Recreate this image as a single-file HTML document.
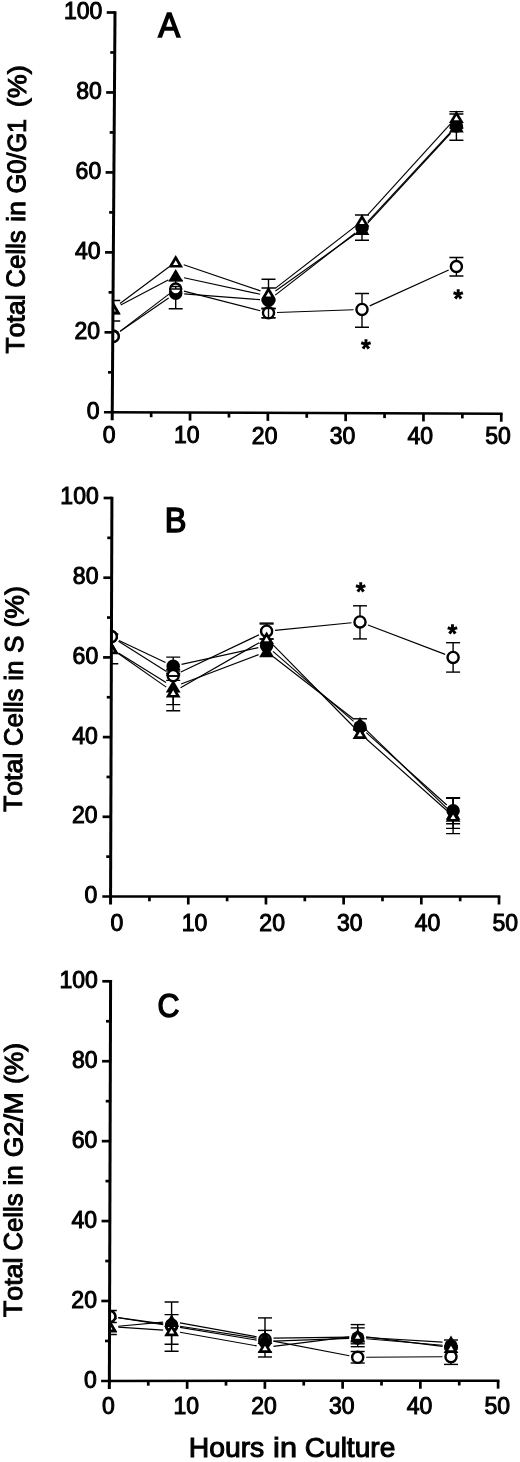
<!DOCTYPE html>
<html><head><meta charset="utf-8"><title>Figure</title>
<style>
html,body{margin:0;padding:0;background:#fff;}
svg{display:block;}
.t{font-family:"Liberation Sans", Arial, Helvetica, sans-serif;fill:#000;stroke:#000;stroke-width:1.0px;font-kerning:none;}
.s{stroke-width:1.4px;}
.b{stroke-width:1.5px;}
</style></head><body>
<svg width="520" height="1462" viewBox="0 0 520 1462">
<rect width="520" height="1462" fill="#fff"/>
<clipPath id="ca"><polygon points="114.51,0.50 520,0.50 520,412.30 111.75,412.30"/></clipPath>
<g clip-path="url(#ca)">
<line x1="113.20" y1="300.50" x2="113.20" y2="321.00" stroke="#000" stroke-width="1.4" />
<line x1="106.20" y1="300.50" x2="120.20" y2="300.50" stroke="#000" stroke-width="1.4" />
<line x1="106.20" y1="321.00" x2="120.20" y2="321.00" stroke="#000" stroke-width="1.4" />
<line x1="175.70" y1="280.50" x2="175.70" y2="308.80" stroke="#000" stroke-width="1.4" />
<line x1="168.70" y1="280.50" x2="182.70" y2="280.50" stroke="#000" stroke-width="1.4" />
<line x1="168.70" y1="308.80" x2="182.70" y2="308.80" stroke="#000" stroke-width="1.4" />
<line x1="268.50" y1="279.20" x2="268.50" y2="308.60" stroke="#000" stroke-width="1.4" />
<line x1="261.50" y1="279.20" x2="275.50" y2="279.20" stroke="#000" stroke-width="1.4" />
<line x1="261.50" y1="308.60" x2="275.50" y2="308.60" stroke="#000" stroke-width="1.4" />
<line x1="268.50" y1="288.00" x2="268.50" y2="300.00" stroke="#000" stroke-width="1.4" />
<line x1="261.50" y1="288.00" x2="275.50" y2="288.00" stroke="#000" stroke-width="1.4" />
<line x1="261.50" y1="300.00" x2="275.50" y2="300.00" stroke="#000" stroke-width="1.4" />
<line x1="268.50" y1="308.50" x2="268.50" y2="317.70" stroke="#000" stroke-width="1.4" />
<line x1="261.50" y1="308.50" x2="275.50" y2="308.50" stroke="#000" stroke-width="1.4" />
<line x1="261.50" y1="317.70" x2="275.50" y2="317.70" stroke="#000" stroke-width="1.4" />
<line x1="362.00" y1="215.00" x2="362.00" y2="240.20" stroke="#000" stroke-width="1.4" />
<line x1="355.00" y1="215.00" x2="369.00" y2="215.00" stroke="#000" stroke-width="1.4" />
<line x1="355.00" y1="240.20" x2="369.00" y2="240.20" stroke="#000" stroke-width="1.4" />
<line x1="362.00" y1="293.50" x2="362.00" y2="327.20" stroke="#000" stroke-width="1.4" />
<line x1="355.00" y1="293.50" x2="369.00" y2="293.50" stroke="#000" stroke-width="1.4" />
<line x1="355.00" y1="327.20" x2="369.00" y2="327.20" stroke="#000" stroke-width="1.4" />
<line x1="456.40" y1="111.60" x2="456.40" y2="140.20" stroke="#000" stroke-width="1.4" />
<line x1="449.40" y1="111.60" x2="463.40" y2="111.60" stroke="#000" stroke-width="1.4" />
<line x1="449.40" y1="140.20" x2="463.40" y2="140.20" stroke="#000" stroke-width="1.4" />
<line x1="456.40" y1="114.00" x2="456.40" y2="128.00" stroke="#000" stroke-width="1.4" />
<line x1="449.40" y1="114.00" x2="463.40" y2="114.00" stroke="#000" stroke-width="1.4" />
<line x1="449.40" y1="128.00" x2="463.40" y2="128.00" stroke="#000" stroke-width="1.4" />
<line x1="456.40" y1="257.50" x2="456.40" y2="276.00" stroke="#000" stroke-width="1.4" />
<line x1="449.40" y1="257.50" x2="463.40" y2="257.50" stroke="#000" stroke-width="1.4" />
<line x1="449.40" y1="276.00" x2="463.40" y2="276.00" stroke="#000" stroke-width="1.4" />
<line x1="120.22" y1="331.21" x2="168.68" y2="298.09" stroke="#000" stroke-width="1.15" />
<line x1="184.18" y1="293.94" x2="260.02" y2="299.66" stroke="#000" stroke-width="1.15" />
<line x1="275.22" y1="295.09" x2="355.28" y2="233.01" stroke="#000" stroke-width="1.15" />
<line x1="367.78" y1="221.57" x2="450.62" y2="132.23" stroke="#000" stroke-width="1.15" />
<line x1="120.72" y1="305.03" x2="168.18" y2="279.97" stroke="#000" stroke-width="1.15" />
<line x1="184.01" y1="277.79" x2="260.19" y2="294.21" stroke="#000" stroke-width="1.15" />
<line x1="275.42" y1="291.07" x2="355.08" y2="234.33" stroke="#000" stroke-width="1.15" />
<line x1="367.76" y1="223.15" x2="450.64" y2="133.25" stroke="#000" stroke-width="1.15" />
<line x1="120.01" y1="303.52" x2="168.89" y2="267.08" stroke="#000" stroke-width="1.15" />
<line x1="183.75" y1="264.74" x2="260.45" y2="290.86" stroke="#000" stroke-width="1.15" />
<line x1="275.22" y1="288.40" x2="355.28" y2="226.40" stroke="#000" stroke-width="1.15" />
<line x1="367.72" y1="214.91" x2="450.68" y2="123.69" stroke="#000" stroke-width="1.15" />
<line x1="119.97" y1="331.36" x2="168.93" y2="294.14" stroke="#000" stroke-width="1.15" />
<line x1="183.93" y1="291.11" x2="260.27" y2="310.69" stroke="#000" stroke-width="1.15" />
<line x1="276.99" y1="312.49" x2="353.51" y2="309.71" stroke="#000" stroke-width="1.15" />
<line x1="369.74" y1="305.88" x2="448.66" y2="270.02" stroke="#000" stroke-width="1.15" />
<circle cx="113.20" cy="336.00" r="6.75" fill="#000"/>
<circle cx="175.70" cy="293.30" r="6.75" fill="#000"/>
<circle cx="268.50" cy="300.30" r="6.75" fill="#000"/>
<circle cx="362.00" cy="227.80" r="6.75" fill="#000"/>
<circle cx="456.40" cy="126.00" r="6.75" fill="#000"/>
<circle cx="113.20" cy="336.50" r="5.55" fill="#fff" stroke="#000" stroke-width="2.4"/>
<circle cx="175.70" cy="289.00" r="5.55" fill="#fff" stroke="#000" stroke-width="2.4"/>
<circle cx="268.50" cy="312.80" r="5.55" fill="#fff" stroke="#000" stroke-width="2.4"/>
<circle cx="362.00" cy="309.40" r="5.55" fill="#fff" stroke="#000" stroke-width="2.4"/>
<circle cx="456.40" cy="266.50" r="5.55" fill="#fff" stroke="#000" stroke-width="2.4"/>
<polygon points="113.20,302.00 120.60,314.60 105.80,314.60" fill="#000"/>
<polygon points="175.70,269.00 183.10,281.60 168.30,281.60" fill="#000"/>
<polygon points="268.50,289.00 275.90,301.60 261.10,301.60" fill="#000"/>
<polygon points="362.00,222.40 369.40,235.00 354.60,235.00" fill="#000"/>
<polygon points="456.40,120.00 463.80,132.60 449.00,132.60" fill="#000"/>
<polygon points="113.20,301.60 120.60,314.20 105.80,314.20" fill="#000"/>
<polygon points="113.20,306.93 115.88,311.50 110.52,311.50" fill="#fff"/>
<polygon points="175.70,255.00 183.10,267.60 168.30,267.60" fill="#000"/>
<polygon points="175.70,260.33 178.38,264.90 173.02,264.90" fill="#fff"/>
<polygon points="268.50,286.60 275.90,299.20 261.10,299.20" fill="#000"/>
<polygon points="268.50,291.93 271.18,296.50 265.82,296.50" fill="#fff"/>
<polygon points="362.00,214.20 369.40,226.80 354.60,226.80" fill="#000"/>
<polygon points="362.00,219.53 364.68,224.10 359.32,224.10" fill="#fff"/>
<polygon points="456.40,110.40 463.80,123.00 449.00,123.00" fill="#000"/>
<polygon points="456.40,115.73 459.08,120.30 453.72,120.30" fill="#fff"/>
<line x1="268.50" y1="308.50" x2="268.50" y2="317.70" stroke="#000" stroke-width="1.4" />
<line x1="261.50" y1="308.50" x2="275.50" y2="308.50" stroke="#000" stroke-width="1.4" />
<line x1="261.50" y1="317.70" x2="275.50" y2="317.70" stroke="#000" stroke-width="1.4" />
<line x1="175.70" y1="286.50" x2="175.70" y2="289.00" stroke="#000" stroke-width="1.4" />
<line x1="171.20" y1="286.50" x2="180.20" y2="286.50" stroke="#000" stroke-width="1.4" />
<line x1="171.20" y1="289.00" x2="180.20" y2="289.00" stroke="#000" stroke-width="1.4" />
</g>
<line x1="115.01" y1="11.15" x2="112.19" y2="420.30" stroke="#000" stroke-width="3.0" />
<line x1="103.95" y1="412.30" x2="502.60" y2="413.74" stroke="#000" stroke-width="2.5" />
<line x1="108.03" y1="372.32" x2="112.53" y2="372.32" stroke="#000" stroke-width="2.7" />
<line x1="104.50" y1="332.34" x2="112.80" y2="332.34" stroke="#000" stroke-width="2.7" />
<line x1="108.58" y1="292.36" x2="113.08" y2="292.36" stroke="#000" stroke-width="2.7" />
<line x1="105.05" y1="252.38" x2="113.35" y2="252.38" stroke="#000" stroke-width="2.7" />
<line x1="109.13" y1="212.40" x2="113.63" y2="212.40" stroke="#000" stroke-width="2.7" />
<line x1="105.61" y1="172.42" x2="113.91" y2="172.42" stroke="#000" stroke-width="2.7" />
<line x1="109.68" y1="132.44" x2="114.18" y2="132.44" stroke="#000" stroke-width="2.7" />
<line x1="106.16" y1="92.46" x2="114.46" y2="92.46" stroke="#000" stroke-width="2.7" />
<line x1="110.23" y1="52.48" x2="114.73" y2="52.48" stroke="#000" stroke-width="2.7" />
<line x1="106.71" y1="12.50" x2="115.01" y2="12.50" stroke="#000" stroke-width="2.7" />
<line x1="151.15" y1="412.44" x2="151.15" y2="417.24" stroke="#000" stroke-width="2.7" />
<line x1="190.05" y1="412.59" x2="190.05" y2="420.59" stroke="#000" stroke-width="2.7" />
<line x1="228.95" y1="412.73" x2="228.95" y2="417.53" stroke="#000" stroke-width="2.7" />
<line x1="267.85" y1="412.88" x2="267.85" y2="420.88" stroke="#000" stroke-width="2.7" />
<line x1="306.75" y1="413.02" x2="306.75" y2="417.82" stroke="#000" stroke-width="2.7" />
<line x1="345.65" y1="413.16" x2="345.65" y2="421.16" stroke="#000" stroke-width="2.7" />
<line x1="384.55" y1="413.31" x2="384.55" y2="418.11" stroke="#000" stroke-width="2.7" />
<line x1="423.45" y1="413.45" x2="423.45" y2="421.45" stroke="#000" stroke-width="2.7" />
<line x1="462.35" y1="413.60" x2="462.35" y2="418.40" stroke="#000" stroke-width="2.7" />
<line x1="501.25" y1="413.74" x2="501.25" y2="421.74" stroke="#000" stroke-width="2.7" />
<text x="99.55" y="418.50" text-anchor="end" font-size="23" class="t">0</text>
<text x="100.10" y="338.54" text-anchor="end" font-size="23" class="t">20</text>
<text x="100.65" y="258.58" text-anchor="end" font-size="23" class="t">40</text>
<text x="101.21" y="178.62" text-anchor="end" font-size="23" class="t">60</text>
<text x="101.76" y="98.66" text-anchor="end" font-size="23" class="t">80</text>
<text x="102.31" y="18.70" text-anchor="end" font-size="23" class="t">100</text>
<text x="109.05" y="443.00" text-anchor="middle" font-size="23" class="t">0</text>
<text x="186.85" y="443.29" text-anchor="middle" font-size="23" class="t">10</text>
<text x="264.65" y="443.58" text-anchor="middle" font-size="23" class="t">20</text>
<text x="342.45" y="443.86" text-anchor="middle" font-size="23" class="t">30</text>
<text x="420.25" y="444.15" text-anchor="middle" font-size="23" class="t">40</text>
<text x="498.05" y="444.44" text-anchor="middle" font-size="23" class="t">50</text>
<text transform="translate(158.22,36.99) scale(0.9625,1.0103)" font-size="34" class="t b">A</text>
<text x="361.20" y="356.75" font-size="24" class="t s">*</text>
<text x="453.40" y="307.15" font-size="24" class="t s">*</text>
<text transform="translate(23.92,353.80) rotate(-89.5) scale(1.0265,1)" font-size="26" class="t">Total</text>
<text transform="translate(24.49,287.64) rotate(-89.5) scale(0.9929,1)" font-size="26" class="t">Cells</text>
<text transform="translate(25.06,221.89) rotate(-89.5) scale(1.0310,1)" font-size="26" class="t">in</text>
<text transform="translate(25.30,193.43) rotate(-89.5) scale(0.9747,1)" font-size="26" class="t">G0/G1</text>
<text transform="translate(26.04,107.24) rotate(-89.5) scale(1.0379,1)" font-size="26" class="t">(%)</text>
<clipPath id="cb"><polygon points="111.42,486.00 520,486.00 520,896.50 110.10,896.50"/></clipPath>
<g clip-path="url(#cb)">
<line x1="111.30" y1="634.00" x2="111.30" y2="663.70" stroke="#000" stroke-width="1.4" />
<line x1="104.30" y1="634.00" x2="118.30" y2="634.00" stroke="#000" stroke-width="1.4" />
<line x1="104.30" y1="663.70" x2="118.30" y2="663.70" stroke="#000" stroke-width="1.4" />
<line x1="173.20" y1="657.10" x2="173.20" y2="675.00" stroke="#000" stroke-width="1.4" />
<line x1="166.20" y1="657.10" x2="180.20" y2="657.10" stroke="#000" stroke-width="1.4" />
<line x1="166.20" y1="675.00" x2="180.20" y2="675.00" stroke="#000" stroke-width="1.4" />
<line x1="173.20" y1="671.00" x2="173.20" y2="680.40" stroke="#000" stroke-width="1.4" />
<line x1="166.20" y1="671.00" x2="180.20" y2="671.00" stroke="#000" stroke-width="1.4" />
<line x1="166.20" y1="680.40" x2="180.20" y2="680.40" stroke="#000" stroke-width="1.4" />
<line x1="173.20" y1="673.30" x2="173.20" y2="710.70" stroke="#000" stroke-width="1.4" />
<line x1="166.20" y1="673.30" x2="180.20" y2="673.30" stroke="#000" stroke-width="1.4" />
<line x1="166.20" y1="710.70" x2="180.20" y2="710.70" stroke="#000" stroke-width="1.4" />
<line x1="173.20" y1="669.40" x2="173.20" y2="704.60" stroke="#000" stroke-width="1.4" />
<line x1="166.20" y1="669.40" x2="180.20" y2="669.40" stroke="#000" stroke-width="1.4" />
<line x1="166.20" y1="704.60" x2="180.20" y2="704.60" stroke="#000" stroke-width="1.4" />
<line x1="266.60" y1="623.10" x2="266.60" y2="639.00" stroke="#000" stroke-width="1.4" />
<line x1="259.60" y1="623.10" x2="273.60" y2="623.10" stroke="#000" stroke-width="1.4" />
<line x1="259.60" y1="639.00" x2="273.60" y2="639.00" stroke="#000" stroke-width="1.4" />
<line x1="266.60" y1="624.00" x2="266.60" y2="639.00" stroke="#000" stroke-width="1.4" />
<line x1="259.60" y1="624.00" x2="273.60" y2="624.00" stroke="#000" stroke-width="1.4" />
<line x1="259.60" y1="639.00" x2="273.60" y2="639.00" stroke="#000" stroke-width="1.4" />
<line x1="360.00" y1="605.80" x2="360.00" y2="638.90" stroke="#000" stroke-width="1.4" />
<line x1="353.00" y1="605.80" x2="367.00" y2="605.80" stroke="#000" stroke-width="1.4" />
<line x1="353.00" y1="638.90" x2="367.00" y2="638.90" stroke="#000" stroke-width="1.4" />
<line x1="360.00" y1="718.80" x2="360.00" y2="730.00" stroke="#000" stroke-width="1.4" />
<line x1="353.00" y1="718.80" x2="367.00" y2="718.80" stroke="#000" stroke-width="1.4" />
<line x1="353.00" y1="730.00" x2="367.00" y2="730.00" stroke="#000" stroke-width="1.4" />
<line x1="453.10" y1="642.70" x2="453.10" y2="672.10" stroke="#000" stroke-width="1.4" />
<line x1="446.10" y1="642.70" x2="460.10" y2="642.70" stroke="#000" stroke-width="1.4" />
<line x1="446.10" y1="672.10" x2="460.10" y2="672.10" stroke="#000" stroke-width="1.4" />
<line x1="453.10" y1="798.10" x2="453.10" y2="823.80" stroke="#000" stroke-width="1.4" />
<line x1="446.10" y1="798.10" x2="460.10" y2="798.10" stroke="#000" stroke-width="1.4" />
<line x1="446.10" y1="823.80" x2="460.10" y2="823.80" stroke="#000" stroke-width="1.4" />
<line x1="453.10" y1="797.60" x2="453.10" y2="828.40" stroke="#000" stroke-width="1.4" />
<line x1="446.10" y1="797.60" x2="460.10" y2="797.60" stroke="#000" stroke-width="1.4" />
<line x1="446.10" y1="828.40" x2="460.10" y2="828.40" stroke="#000" stroke-width="1.4" />
<line x1="453.10" y1="798.40" x2="453.10" y2="833.60" stroke="#000" stroke-width="1.4" />
<line x1="446.10" y1="798.40" x2="460.10" y2="798.40" stroke="#000" stroke-width="1.4" />
<line x1="446.10" y1="833.60" x2="460.10" y2="833.60" stroke="#000" stroke-width="1.4" />
<line x1="118.98" y1="640.45" x2="165.52" y2="662.55" stroke="#000" stroke-width="1.15" />
<line x1="181.50" y1="664.39" x2="258.30" y2="647.61" stroke="#000" stroke-width="1.15" />
<line x1="273.01" y1="651.38" x2="353.59" y2="721.42" stroke="#000" stroke-width="1.15" />
<line x1="366.32" y1="732.68" x2="446.78" y2="805.02" stroke="#000" stroke-width="1.15" />
<line x1="118.51" y1="652.90" x2="165.99" y2="682.50" stroke="#000" stroke-width="1.15" />
<line x1="181.15" y1="683.99" x2="258.65" y2="654.61" stroke="#000" stroke-width="1.15" />
<line x1="273.32" y1="656.81" x2="353.28" y2="718.79" stroke="#000" stroke-width="1.15" />
<line x1="366.10" y1="729.91" x2="447.00" y2="808.29" stroke="#000" stroke-width="1.15" />
<line x1="118.26" y1="653.48" x2="166.24" y2="687.12" stroke="#000" stroke-width="1.15" />
<line x1="180.57" y1="687.77" x2="259.23" y2="642.63" stroke="#000" stroke-width="1.15" />
<line x1="272.56" y1="644.46" x2="354.04" y2="727.24" stroke="#000" stroke-width="1.15" />
<line x1="366.35" y1="738.95" x2="446.75" y2="810.55" stroke="#000" stroke-width="1.15" />
<line x1="118.49" y1="641.14" x2="166.01" y2="671.16" stroke="#000" stroke-width="1.15" />
<line x1="180.87" y1="672.04" x2="258.93" y2="634.86" stroke="#000" stroke-width="1.15" />
<line x1="275.06" y1="630.36" x2="351.54" y2="622.74" stroke="#000" stroke-width="1.15" />
<line x1="367.94" y1="624.93" x2="445.16" y2="654.37" stroke="#000" stroke-width="1.15" />
<circle cx="111.30" cy="636.80" r="6.75" fill="#000"/>
<circle cx="173.20" cy="666.20" r="6.75" fill="#000"/>
<circle cx="266.60" cy="645.80" r="6.75" fill="#000"/>
<circle cx="360.00" cy="727.00" r="6.75" fill="#000"/>
<circle cx="453.10" cy="810.70" r="6.75" fill="#000"/>
<circle cx="111.30" cy="636.60" r="5.55" fill="#fff" stroke="#000" stroke-width="2.4"/>
<circle cx="173.20" cy="675.70" r="5.55" fill="#fff" stroke="#000" stroke-width="2.4"/>
<circle cx="266.60" cy="631.20" r="5.55" fill="#fff" stroke="#000" stroke-width="2.4"/>
<circle cx="360.00" cy="621.90" r="5.55" fill="#fff" stroke="#000" stroke-width="2.4"/>
<circle cx="453.10" cy="657.40" r="5.55" fill="#fff" stroke="#000" stroke-width="2.4"/>
<polygon points="111.30,641.40 118.70,654.00 103.90,654.00" fill="#000"/>
<polygon points="173.20,680.00 180.60,692.60 165.80,692.60" fill="#000"/>
<polygon points="266.60,644.60 274.00,657.20 259.20,657.20" fill="#000"/>
<polygon points="360.00,717.00 367.40,729.60 352.60,729.60" fill="#000"/>
<polygon points="453.10,807.20 460.50,819.80 445.70,819.80" fill="#000"/>
<polygon points="111.30,641.60 118.70,654.20 103.90,654.20" fill="#000"/>
<polygon points="111.30,646.93 113.98,651.50 108.62,651.50" fill="#fff"/>
<polygon points="173.20,685.00 180.60,697.60 165.80,697.60" fill="#000"/>
<polygon points="173.20,690.33 175.88,694.90 170.52,694.90" fill="#fff"/>
<polygon points="266.60,631.40 274.00,644.00 259.20,644.00" fill="#000"/>
<polygon points="266.60,636.73 269.28,641.30 263.92,641.30" fill="#fff"/>
<polygon points="360.00,726.30 367.40,738.90 352.60,738.90" fill="#000"/>
<polygon points="360.00,731.63 362.68,736.20 357.32,736.20" fill="#fff"/>
<polygon points="453.10,809.20 460.50,821.80 445.70,821.80" fill="#000"/>
<polygon points="453.10,814.53 455.78,819.10 450.42,819.10" fill="#fff"/>
<line x1="173.20" y1="676.00" x2="173.20" y2="676.00" stroke="#000" stroke-width="1.4" />
<line x1="167.70" y1="676.00" x2="178.70" y2="676.00" stroke="#000" stroke-width="1.4" />
<line x1="167.70" y1="676.00" x2="178.70" y2="676.00" stroke="#000" stroke-width="1.4" />
</g>
<line x1="111.92" y1="496.65" x2="110.54" y2="904.50" stroke="#000" stroke-width="3.0" />
<line x1="102.30" y1="896.50" x2="500.35" y2="896.50" stroke="#000" stroke-width="2.5" />
<line x1="106.23" y1="856.65" x2="110.73" y2="856.65" stroke="#000" stroke-width="2.7" />
<line x1="102.56" y1="816.80" x2="110.86" y2="816.80" stroke="#000" stroke-width="2.7" />
<line x1="106.49" y1="776.95" x2="110.99" y2="776.95" stroke="#000" stroke-width="2.7" />
<line x1="102.83" y1="737.10" x2="111.13" y2="737.10" stroke="#000" stroke-width="2.7" />
<line x1="106.76" y1="697.25" x2="111.26" y2="697.25" stroke="#000" stroke-width="2.7" />
<line x1="103.09" y1="657.40" x2="111.39" y2="657.40" stroke="#000" stroke-width="2.7" />
<line x1="107.02" y1="617.55" x2="111.52" y2="617.55" stroke="#000" stroke-width="2.7" />
<line x1="103.35" y1="577.70" x2="111.65" y2="577.70" stroke="#000" stroke-width="2.7" />
<line x1="107.28" y1="537.85" x2="111.78" y2="537.85" stroke="#000" stroke-width="2.7" />
<line x1="103.62" y1="498.00" x2="111.92" y2="498.00" stroke="#000" stroke-width="2.7" />
<line x1="149.44" y1="896.50" x2="149.44" y2="901.30" stroke="#000" stroke-width="2.7" />
<line x1="188.28" y1="896.50" x2="188.28" y2="904.50" stroke="#000" stroke-width="2.7" />
<line x1="227.12" y1="896.50" x2="227.12" y2="901.30" stroke="#000" stroke-width="2.7" />
<line x1="265.96" y1="896.50" x2="265.96" y2="904.50" stroke="#000" stroke-width="2.7" />
<line x1="304.80" y1="896.50" x2="304.80" y2="901.30" stroke="#000" stroke-width="2.7" />
<line x1="343.64" y1="896.50" x2="343.64" y2="904.50" stroke="#000" stroke-width="2.7" />
<line x1="382.48" y1="896.50" x2="382.48" y2="901.30" stroke="#000" stroke-width="2.7" />
<line x1="421.32" y1="896.50" x2="421.32" y2="904.50" stroke="#000" stroke-width="2.7" />
<line x1="460.16" y1="896.50" x2="460.16" y2="901.30" stroke="#000" stroke-width="2.7" />
<line x1="499.00" y1="896.50" x2="499.00" y2="904.50" stroke="#000" stroke-width="2.7" />
<text x="97.40" y="902.95" text-anchor="end" font-size="23" class="t">0</text>
<text x="97.66" y="823.25" text-anchor="end" font-size="23" class="t">20</text>
<text x="97.93" y="743.55" text-anchor="end" font-size="23" class="t">40</text>
<text x="98.19" y="663.85" text-anchor="end" font-size="23" class="t">60</text>
<text x="98.45" y="584.15" text-anchor="end" font-size="23" class="t">80</text>
<text x="98.72" y="504.45" text-anchor="end" font-size="23" class="t">100</text>
<text x="116.80" y="931.30" text-anchor="middle" font-size="23" class="t">0</text>
<text x="194.48" y="931.30" text-anchor="middle" font-size="23" class="t">10</text>
<text x="272.16" y="931.30" text-anchor="middle" font-size="23" class="t">20</text>
<text x="349.84" y="931.30" text-anchor="middle" font-size="23" class="t">30</text>
<text x="427.52" y="931.30" text-anchor="middle" font-size="23" class="t">40</text>
<text x="505.20" y="931.30" text-anchor="middle" font-size="23" class="t">50</text>
<text transform="translate(164.65,531.98) scale(0.9558,1.0309)" font-size="34" class="t b">B</text>
<text x="356.00" y="600.45" font-size="24" class="t s">*</text>
<text x="447.80" y="641.95" font-size="24" class="t s">*</text>
<text transform="translate(21.71,811.90) rotate(-89.56) scale(1.0212,1)" font-size="26" class="t">Total</text>
<text transform="translate(22.21,746.15) rotate(-89.56) scale(0.9947,1)" font-size="26" class="t">Cells</text>
<text transform="translate(22.72,680.85) rotate(-89.56) scale(0.9972,1)" font-size="26" class="t">in</text>
<text transform="translate(22.93,653.05) rotate(-89.56) scale(1.0062,1)" font-size="26" class="t">S</text>
<text transform="translate(23.13,627.52) rotate(-89.56) scale(1.0248,1)" font-size="26" class="t">(%)</text>
<clipPath id="cc"><polygon points="110.10,969.30 520,969.30 520,1380.90 108.90,1380.90"/></clipPath>
<g clip-path="url(#cc)">
<line x1="109.80" y1="1310.50" x2="109.80" y2="1322.50" stroke="#000" stroke-width="1.4" />
<line x1="102.80" y1="1310.50" x2="116.80" y2="1310.50" stroke="#000" stroke-width="1.4" />
<line x1="102.80" y1="1322.50" x2="116.80" y2="1322.50" stroke="#000" stroke-width="1.4" />
<line x1="109.80" y1="1318.50" x2="109.80" y2="1334.50" stroke="#000" stroke-width="1.4" />
<line x1="102.80" y1="1318.50" x2="116.80" y2="1318.50" stroke="#000" stroke-width="1.4" />
<line x1="102.80" y1="1334.50" x2="116.80" y2="1334.50" stroke="#000" stroke-width="1.4" />
<line x1="171.60" y1="1302.00" x2="171.60" y2="1351.20" stroke="#000" stroke-width="1.4" />
<line x1="164.60" y1="1302.00" x2="178.60" y2="1302.00" stroke="#000" stroke-width="1.4" />
<line x1="164.60" y1="1351.20" x2="178.60" y2="1351.20" stroke="#000" stroke-width="1.4" />
<line x1="171.60" y1="1314.60" x2="171.60" y2="1344.20" stroke="#000" stroke-width="1.4" />
<line x1="164.60" y1="1314.60" x2="178.60" y2="1314.60" stroke="#000" stroke-width="1.4" />
<line x1="164.60" y1="1344.20" x2="178.60" y2="1344.20" stroke="#000" stroke-width="1.4" />
<line x1="265.00" y1="1317.90" x2="265.00" y2="1357.00" stroke="#000" stroke-width="1.4" />
<line x1="258.00" y1="1317.90" x2="272.00" y2="1317.90" stroke="#000" stroke-width="1.4" />
<line x1="258.00" y1="1357.00" x2="272.00" y2="1357.00" stroke="#000" stroke-width="1.4" />
<line x1="265.00" y1="1330.40" x2="265.00" y2="1352.00" stroke="#000" stroke-width="1.4" />
<line x1="258.00" y1="1330.40" x2="272.00" y2="1330.40" stroke="#000" stroke-width="1.4" />
<line x1="258.00" y1="1352.00" x2="272.00" y2="1352.00" stroke="#000" stroke-width="1.4" />
<line x1="357.70" y1="1324.60" x2="357.70" y2="1346.70" stroke="#000" stroke-width="1.4" />
<line x1="350.70" y1="1324.60" x2="364.70" y2="1324.60" stroke="#000" stroke-width="1.4" />
<line x1="350.70" y1="1346.70" x2="364.70" y2="1346.70" stroke="#000" stroke-width="1.4" />
<line x1="357.70" y1="1327.90" x2="357.70" y2="1343.80" stroke="#000" stroke-width="1.4" />
<line x1="350.70" y1="1327.90" x2="364.70" y2="1327.90" stroke="#000" stroke-width="1.4" />
<line x1="350.70" y1="1343.80" x2="364.70" y2="1343.80" stroke="#000" stroke-width="1.4" />
<line x1="357.70" y1="1351.50" x2="357.70" y2="1363.00" stroke="#000" stroke-width="1.4" />
<line x1="350.70" y1="1351.50" x2="364.70" y2="1351.50" stroke="#000" stroke-width="1.4" />
<line x1="350.70" y1="1363.00" x2="364.70" y2="1363.00" stroke="#000" stroke-width="1.4" />
<line x1="451.00" y1="1340.00" x2="451.00" y2="1346.00" stroke="#000" stroke-width="1.4" />
<line x1="444.00" y1="1340.00" x2="458.00" y2="1340.00" stroke="#000" stroke-width="1.4" />
<line x1="444.00" y1="1346.00" x2="458.00" y2="1346.00" stroke="#000" stroke-width="1.4" />
<line x1="451.00" y1="1349.00" x2="451.00" y2="1364.40" stroke="#000" stroke-width="1.4" />
<line x1="444.00" y1="1349.00" x2="458.00" y2="1349.00" stroke="#000" stroke-width="1.4" />
<line x1="444.00" y1="1364.40" x2="458.00" y2="1364.40" stroke="#000" stroke-width="1.4" />
<line x1="118.20" y1="1317.79" x2="163.20" y2="1324.71" stroke="#000" stroke-width="1.15" />
<line x1="179.99" y1="1327.39" x2="256.61" y2="1340.11" stroke="#000" stroke-width="1.15" />
<line x1="273.49" y1="1341.18" x2="349.21" y2="1338.32" stroke="#000" stroke-width="1.15" />
<line x1="366.17" y1="1338.73" x2="442.53" y2="1345.27" stroke="#000" stroke-width="1.15" />
<line x1="118.26" y1="1326.22" x2="163.14" y2="1322.08" stroke="#000" stroke-width="1.15" />
<line x1="179.96" y1="1322.82" x2="256.64" y2="1336.78" stroke="#000" stroke-width="1.15" />
<line x1="273.50" y1="1338.18" x2="349.20" y2="1337.12" stroke="#000" stroke-width="1.15" />
<line x1="366.18" y1="1337.51" x2="442.52" y2="1342.09" stroke="#000" stroke-width="1.15" />
<line x1="118.28" y1="1327.08" x2="163.12" y2="1330.12" stroke="#000" stroke-width="1.15" />
<line x1="179.97" y1="1332.20" x2="256.63" y2="1345.90" stroke="#000" stroke-width="1.15" />
<line x1="273.43" y1="1346.34" x2="349.27" y2="1336.86" stroke="#000" stroke-width="1.15" />
<line x1="366.14" y1="1336.85" x2="442.56" y2="1346.35" stroke="#000" stroke-width="1.15" />
<line x1="118.22" y1="1317.66" x2="163.18" y2="1323.84" stroke="#000" stroke-width="1.15" />
<line x1="180.00" y1="1326.30" x2="256.60" y2="1338.20" stroke="#000" stroke-width="1.15" />
<line x1="273.35" y1="1341.10" x2="349.35" y2="1355.70" stroke="#000" stroke-width="1.15" />
<line x1="366.20" y1="1357.25" x2="442.50" y2="1356.75" stroke="#000" stroke-width="1.15" />
<circle cx="109.80" cy="1316.50" r="6.75" fill="#000"/>
<circle cx="171.60" cy="1326.00" r="6.75" fill="#000"/>
<circle cx="265.00" cy="1341.50" r="6.75" fill="#000"/>
<circle cx="357.70" cy="1338.00" r="6.75" fill="#000"/>
<circle cx="451.00" cy="1346.00" r="6.75" fill="#000"/>
<circle cx="109.80" cy="1316.50" r="5.55" fill="#fff" stroke="#000" stroke-width="2.4"/>
<circle cx="171.60" cy="1325.00" r="5.55" fill="#fff" stroke="#000" stroke-width="2.4"/>
<circle cx="265.00" cy="1339.50" r="5.55" fill="#fff" stroke="#000" stroke-width="2.4"/>
<circle cx="357.70" cy="1357.30" r="5.55" fill="#fff" stroke="#000" stroke-width="2.4"/>
<circle cx="451.00" cy="1356.70" r="5.55" fill="#fff" stroke="#000" stroke-width="2.4"/>
<polygon points="109.80,1320.00 117.20,1332.60 102.40,1332.60" fill="#000"/>
<polygon points="171.60,1314.30 179.00,1326.90 164.20,1326.90" fill="#000"/>
<polygon points="265.00,1331.30 272.40,1343.90 257.60,1343.90" fill="#000"/>
<polygon points="357.70,1330.00 365.10,1342.60 350.30,1342.60" fill="#000"/>
<polygon points="451.00,1335.60 458.40,1348.20 443.60,1348.20" fill="#000"/>
<polygon points="109.80,1319.50 117.20,1332.10 102.40,1332.10" fill="#000"/>
<polygon points="109.80,1324.83 112.48,1329.40 107.12,1329.40" fill="#fff"/>
<polygon points="171.60,1323.70 179.00,1336.30 164.20,1336.30" fill="#000"/>
<polygon points="171.60,1329.03 174.28,1333.60 168.92,1333.60" fill="#fff"/>
<polygon points="265.00,1340.40 272.40,1353.00 257.60,1353.00" fill="#000"/>
<polygon points="265.00,1345.73 267.68,1350.30 262.32,1350.30" fill="#fff"/>
<polygon points="357.70,1328.80 365.10,1341.40 350.30,1341.40" fill="#000"/>
<polygon points="357.70,1334.13 360.38,1338.70 355.02,1338.70" fill="#fff"/>
<polygon points="451.00,1340.40 458.40,1353.00 443.60,1353.00" fill="#000"/>
<polygon points="451.00,1345.73 453.68,1350.30 448.32,1350.30" fill="#fff"/>
</g>
<line x1="110.60" y1="979.95" x2="109.34" y2="1388.90" stroke="#000" stroke-width="3.0" />
<line x1="101.10" y1="1380.90" x2="499.45" y2="1380.67" stroke="#000" stroke-width="2.5" />
<line x1="105.02" y1="1340.94" x2="109.52" y2="1340.94" stroke="#000" stroke-width="2.7" />
<line x1="101.34" y1="1300.98" x2="109.64" y2="1300.98" stroke="#000" stroke-width="2.7" />
<line x1="105.26" y1="1261.02" x2="109.76" y2="1261.02" stroke="#000" stroke-width="2.7" />
<line x1="101.58" y1="1221.06" x2="109.88" y2="1221.06" stroke="#000" stroke-width="2.7" />
<line x1="105.50" y1="1181.10" x2="110.00" y2="1181.10" stroke="#000" stroke-width="2.7" />
<line x1="101.82" y1="1141.14" x2="110.12" y2="1141.14" stroke="#000" stroke-width="2.7" />
<line x1="105.74" y1="1101.18" x2="110.24" y2="1101.18" stroke="#000" stroke-width="2.7" />
<line x1="102.06" y1="1061.22" x2="110.36" y2="1061.22" stroke="#000" stroke-width="2.7" />
<line x1="105.98" y1="1021.26" x2="110.48" y2="1021.26" stroke="#000" stroke-width="2.7" />
<line x1="102.30" y1="981.30" x2="110.60" y2="981.30" stroke="#000" stroke-width="2.7" />
<line x1="148.27" y1="1380.88" x2="148.27" y2="1385.68" stroke="#000" stroke-width="2.7" />
<line x1="187.14" y1="1380.85" x2="187.14" y2="1388.85" stroke="#000" stroke-width="2.7" />
<line x1="226.01" y1="1380.83" x2="226.01" y2="1385.63" stroke="#000" stroke-width="2.7" />
<line x1="264.88" y1="1380.81" x2="264.88" y2="1388.81" stroke="#000" stroke-width="2.7" />
<line x1="303.75" y1="1380.78" x2="303.75" y2="1385.58" stroke="#000" stroke-width="2.7" />
<line x1="342.62" y1="1380.76" x2="342.62" y2="1388.76" stroke="#000" stroke-width="2.7" />
<line x1="381.49" y1="1380.74" x2="381.49" y2="1385.54" stroke="#000" stroke-width="2.7" />
<line x1="420.36" y1="1380.71" x2="420.36" y2="1388.71" stroke="#000" stroke-width="2.7" />
<line x1="459.23" y1="1380.69" x2="459.23" y2="1385.49" stroke="#000" stroke-width="2.7" />
<line x1="498.10" y1="1380.67" x2="498.10" y2="1388.67" stroke="#000" stroke-width="2.7" />
<text x="96.70" y="1387.80" text-anchor="end" font-size="23" class="t">0</text>
<text x="96.94" y="1307.88" text-anchor="end" font-size="23" class="t">20</text>
<text x="97.18" y="1227.96" text-anchor="end" font-size="23" class="t">40</text>
<text x="97.42" y="1148.04" text-anchor="end" font-size="23" class="t">60</text>
<text x="97.66" y="1068.12" text-anchor="end" font-size="23" class="t">80</text>
<text x="97.90" y="988.20" text-anchor="end" font-size="23" class="t">100</text>
<text x="108.50" y="1414.20" text-anchor="middle" font-size="23" class="t">0</text>
<text x="186.24" y="1414.15" text-anchor="middle" font-size="23" class="t">10</text>
<text x="263.98" y="1414.11" text-anchor="middle" font-size="23" class="t">20</text>
<text x="341.72" y="1414.06" text-anchor="middle" font-size="23" class="t">30</text>
<text x="419.46" y="1414.01" text-anchor="middle" font-size="23" class="t">40</text>
<text x="497.20" y="1413.97" text-anchor="middle" font-size="23" class="t">50</text>
<text transform="translate(157.38,1016.77) scale(0.8933,0.9680)" font-size="34" class="t b">C</text>
<text transform="translate(21.84,1317.20) rotate(-89.8) scale(1.0336,1)" font-size="26" class="t">Total</text>
<text transform="translate(22.07,1250.75) rotate(-89.8) scale(0.9947,1)" font-size="26" class="t">Cells</text>
<text transform="translate(22.30,1185.45) rotate(-89.8) scale(0.9972,1)" font-size="26" class="t">in</text>
<text transform="translate(22.40,1157.27) rotate(-89.8) scale(1.0237,1)" font-size="26" class="t">G2/M</text>
<text transform="translate(22.66,1084.12) rotate(-89.8) scale(1.0170,1)" font-size="26" class="t">(%)</text>
<text transform="translate(188.66,1456.50) scale(1.0502,1)" font-size="27" class="t">Hours</text>
<text transform="translate(273.08,1456.50) scale(1.1351,1)" font-size="27" class="t">in</text>
<text transform="translate(304.71,1456.50) scale(1.0411,1)" font-size="27" class="t">Culture</text>
</svg>
</body></html>
